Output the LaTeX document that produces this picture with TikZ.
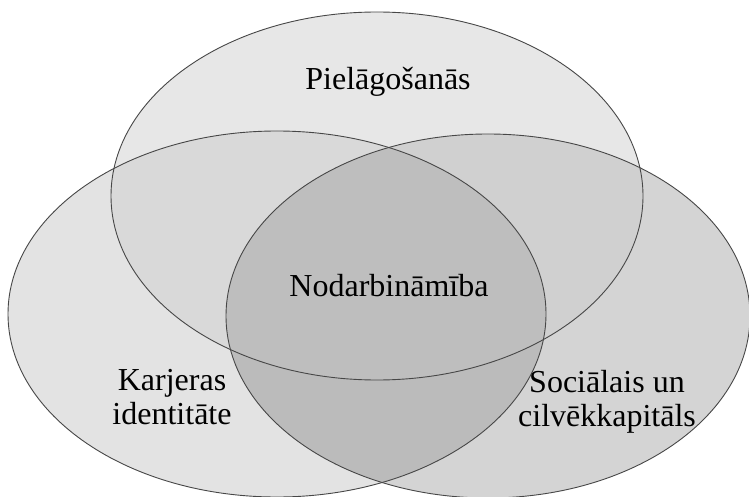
\documentclass[tikz,border=0pt]{standalone}
\usepackage{fontspec}
\setmainfont{Liberation Serif}
\usetikzlibrary{calc}

\definecolor{topfill}{gray}{0.905}
\definecolor{leftfill}{gray}{0.89}
\definecolor{rightfill}{gray}{0.83}
\definecolor{tlfill}{gray}{0.85}
\definecolor{trfill}{gray}{0.815}
\definecolor{lrfill}{gray}{0.735}
\definecolor{midfill}{gray}{0.745}

\tikzset{
  venn line/.style={draw=black!72,line width=0.9pt},
  venn label/.style={font=\fontsize{32}{34}\selectfont,align=center,inner sep=0pt},
}

\begin{document}
\begin{tikzpicture}[x=1pt,y=-1pt]
\useasboundingbox (0,0) rectangle (749,497);
\coordinate (adapt) at (377,196);
\coordinate (career) at (277,314);
\coordinate (capital) at (488,316);
\def\topE{(adapt) ellipse (266pt and 184pt)}
\def\leftE{(career) ellipse (269pt and 183pt)}
\def\rightE{(capital) ellipse (262pt and 182pt)}
\fill[topfill] \topE;
\fill[leftfill] \leftE;
\fill[rightfill] \rightE;
\begin{scope}
\clip \topE;
\fill[tlfill] \leftE;
\fill[trfill] \rightE;
\end{scope}
\begin{scope}
\clip \leftE;
\fill[lrfill] \rightE;
\clip \topE;
\fill[midfill] \rightE;
\end{scope}
\draw[venn line] \topE;
\draw[venn line] \leftE;
\draw[venn line] \rightE;
\node[venn label,anchor=base] (adaptlbl) at (388,90) {Pielāgošanās};
\node[venn label,anchor=base] (corelbl) at (389,296) {Nodarbināmība};
\node[venn label] (careerlbl) at (172,397) {Karjeras\\identitāte};
\node[venn label] (capitallbl) at (607,402) {Sociālais un\\cilvēkkapitāls};
\end{tikzpicture}
\end{document}
